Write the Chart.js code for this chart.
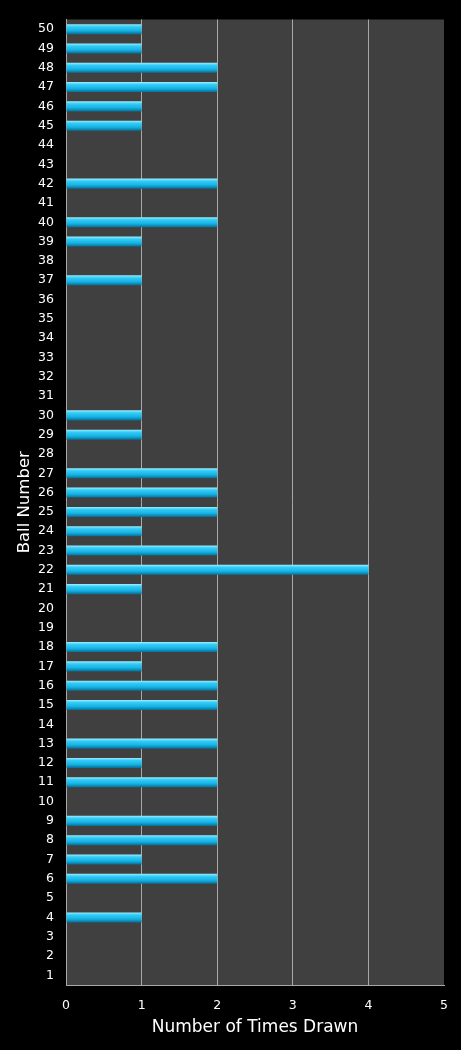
<!DOCTYPE html>
<html>
<head>
<meta charset="utf-8">
<script src="https://cdn.jsdelivr.net/npm/chart.js@4"></script>
<style>
  body { margin: 0; background: #000; }
  #chart { display: block; }
</style>
</head>
<body>
<canvas id="chart" width="461" height="1050"></canvas>
<script>
// ball numbers 1..50 and how often each was drawn
const ballNumbers = Array.from({ length: 50 }, (_, i) => String(i + 1));
const timesDrawn = [
  0, 0, 0, 1, 0, 2, 1, 2, 2, 0,   // 1-10
  2, 1, 2, 0, 2, 2, 1, 2, 0, 0,   // 11-20
  1, 4, 2, 1, 2, 2, 2, 0, 1, 1,   // 21-30
  0, 0, 0, 0, 0, 0, 1, 0, 1, 2,   // 31-40
  0, 2, 0, 0, 1, 1, 2, 2, 1, 1    // 41-50
];
const xTicks = [0, 1, 2, 3, 4, 5];

const fontFamily = "'DejaVu Sans', Verdana, sans-serif";

// dark grey plot background
const plotBg = {
  id: "plotBg",
  beforeDraw(chart) {
    const { ctx, chartArea: a } = chart;
    ctx.save();
    ctx.fillStyle = "#404040";
    ctx.fillRect(a.left, a.top, a.right - a.left, a.bottom - a.top);
    ctx.restore();
  },
};

// glossy cyan bars, gradient across the bar thickness
function barFill(c) {
  const chart = c.chart;
  const y = chart.scales.y;
  if (!y || c.dataIndex === undefined) return "#1ec0ee";
  const mid = y.getPixelForValue(c.dataIndex);
  if (!isFinite(mid)) return "#1ec0ee";
  const half = 5;
  const g = chart.ctx.createLinearGradient(0, mid - half, 0, mid + half);
  g.addColorStop(0, "#9aeeff");
  g.addColorStop(0.25, "#34ccf6");
  g.addColorStop(0.65, "#14b2e4");
  g.addColorStop(1, "#076f96");
  return g;
}

new Chart(document.getElementById("chart"), {
  type: "bar",
  data: {
    labels: ballNumbers,
    datasets: [
      {
        label: "Times Drawn",
        data: timesDrawn,
        backgroundColor: barFill,
        borderWidth: 0,
        barPercentage: 0.52,
        categoryPercentage: 1,
      },
    ],
  },
  options: {
    indexAxis: "y",
    responsive: false,
    animation: false,
    layout: { padding: { top: 14, right: 15, left: 0, bottom: 0 } },
    plugins: {
      legend: { display: false },
      tooltip: { enabled: false },
    },
    scales: {
      x: {
        min: 0,
        max: 5,
        afterBuildTicks: (s) => { s.ticks = xTicks.map((v) => ({ value: v })); },
        afterFit: (s) => { s.height = 65; },
        grid: {
          color: (c) => (c.tick && (c.tick.value === 0 || c.tick.value === 5) ? "transparent" : "#a8a8a8"),
          lineWidth: 1,
          drawTicks: false,
        },
        border: { color: "#a8a8a8", width: 1 },
        ticks: {
          color: "#ffffff",
          font: { family: fontFamily, size: 12.5 },
          padding: 13,
        },
        title: {
          display: true,
          text: "Number of Times Drawn",
          color: "#ffffff",
          font: { family: fontFamily, size: 17 },
          padding: { top: 0, bottom: 12 },
        },
      },
      y: {
        reverse: true,
        afterFit: (s) => { s.width = 66; },
        grid: { display: false, drawTicks: false },
        border: { color: "#a8a8a8", width: 1 },
        ticks: {
          color: "#ffffff",
          font: { family: fontFamily, size: 12.5 },
          padding: 12,
          autoSkip: false,
        },
        title: {
          display: true,
          text: "Ball Number",
          color: "#ffffff",
          font: { family: fontFamily, size: 16.5 },
          padding: { top: 15, bottom: 0 },
        },
      },
    },
  },
  plugins: [plotBg],
});
</script>
</body>
</html>
